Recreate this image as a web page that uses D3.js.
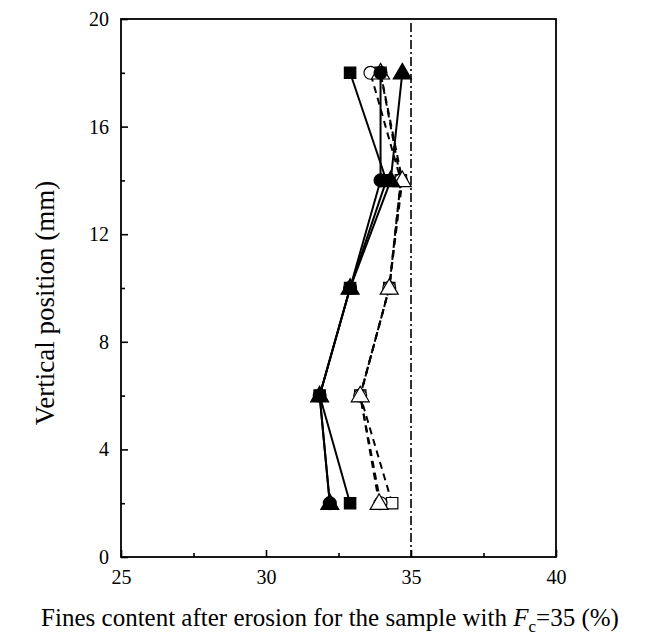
<!DOCTYPE html>
<html lang="en">

<head>
    <meta charset="utf-8">
    <title>fines content profile</title>
    <script src="https://cdn.jsdelivr.net/npm/d3@7/dist/d3.min.js"></script>
    <style>
        body { margin: 0; background: #fff; }
        text { font-family: "Liberation Serif", "Times New Roman", serif; fill: #000; }
    </style>
</head>

<body>
    <script>
        // vertical positions (mm)
        var positions = [2, 6, 10, 14, 18];
        // fines content (%) per series
        var filledSquare = [32.9, 31.85, 32.9, 34.15, 32.9];
        var filledCircle = [32.2, 31.85, 32.9, 33.95, 33.95];
        var filledTriangle = [32.2, 31.85, 32.9, 34.3, 34.7];
        var openSquare = [34.35, 33.25, 34.25, 34.65, 33.95];
        var openCircle = [33.95, 33.25, 34.25, 34.65, 33.6];
        var openTriangle = [33.9, 33.25, 34.25, 34.7, 33.95];
        var xTicks = [25, 30, 35, 40];
        var xMinor = [27.5, 32.5, 37.5];
        var yTicks = [0, 4, 8, 12, 16, 20];
        var yMinor = [2, 6, 10, 14, 18];
        var limitLine = 35;

        var series = [
            { values: openSquare, shape: d3.symbolSquare, fill: '#fff', dash: '7,5' },
            { values: openCircle, shape: d3.symbolCircle, fill: '#fff', dash: '7,5' },
            { values: openTriangle, shape: d3.symbolTriangle, fill: '#fff', dash: '7,5' },
            { values: filledSquare, shape: d3.symbolSquare, fill: '#000', dash: null },
            { values: filledCircle, shape: d3.symbolCircle, fill: '#000', dash: null },
            { values: filledTriangle, shape: d3.symbolTriangle, fill: '#000', dash: null }
        ];

        var svgWidth = 660, svgHeight = 644;
        var mLeft = 121, mRight = 556, mTop = 19, mBottom = 557;

        var svg = d3.select('body')
            .append('svg')
            .attr('width', svgWidth)
            .attr('height', svgHeight);

        var x = d3.scaleLinear().domain([25, 40]).range([mLeft, mRight]);
        var y = d3.scaleLinear().domain([0, 20]).range([mBottom, mTop]);

        // frame
        svg.append('rect')
            .attr('x', mLeft).attr('y', mTop)
            .attr('width', mRight - mLeft).attr('height', mBottom - mTop)
            .style('fill', 'none').style('stroke', '#000').style('stroke-width', 1.8);

        // inward ticks
        svg.append('g')
            .attr('transform', `translate(0, ${mBottom})`)
            .call(d3.axisBottom(x).tickValues(xTicks).tickSize(-7).tickPadding(13));
        svg.append('g')
            .attr('transform', `translate(0, ${mBottom})`)
            .call(d3.axisBottom(x).tickValues(xMinor).tickSize(-4).tickFormat(''));
        svg.append('g')
            .attr('transform', `translate(${mLeft}, 0)`)
            .call(d3.axisLeft(y).tickValues(yTicks).tickSize(-7).tickPadding(12));
        svg.append('g')
            .attr('transform', `translate(${mLeft}, 0)`)
            .call(d3.axisLeft(y).tickValues(yMinor).tickSize(-4).tickFormat(''));
        svg.selectAll('.domain').remove();
        svg.selectAll('g').attr('font-family', '"Liberation Serif", serif').attr('font-size', 20);
        svg.selectAll('.tick line').style('stroke', '#000').style('stroke-width', 1.6);

        // reference line
        svg.append('line')
            .attr('x1', x(limitLine)).attr('x2', x(limitLine))
            .attr('y1', y(20) + 4).attr('y2', y(0))
            .style('stroke', '#000').style('stroke-width', 1.6)
            .style('stroke-dasharray', '9,3,2,3');

        var line = d3.line()
            .x(d => x(d[0]))
            .y(d => y(d[1]));

        series.forEach(s => {
            var pts = s.values.map((v, i) => [v, positions[i]]);
            svg.append('path')
                .attr('d', line(pts))
                .style('fill', 'none')
                .style('stroke', '#000')
                .style('stroke-width', 2)
                .style('stroke-dasharray', s.dash);
        });

        series.forEach(s => {
            var tri = s.shape === d3.symbolTriangle;
            var sym = d3.symbol().type(s.shape).size(tri ? 140 : 130);
            svg.append('g').selectAll('path')
                .data(s.values.map((v, i) => [v, positions[i]]))
                .enter().append('path')
                .attr('transform', d => `translate(${x(d[0])}, ${y(d[1]) + (tri ? 1 : 0)})`)
                .attr('d', sym)
                .style('fill', s.fill)
                .style('stroke', '#000')
                .style('stroke-width', 1.2);
        });

        // axis titles
        svg.append('text')
            .attr('transform', `translate(54, 303) rotate(-90)`)
            .attr('text-anchor', 'middle')
            .style('font-size', '27px')
            .text('Vertical position (mm)');

        var xt = svg.append('text')
            .attr('x', 330).attr('y', 626)
            .attr('text-anchor', 'middle')
            .style('font-size', '25px');
        xt.append('tspan').text('Fines content after erosion for the sample with ');
        xt.append('tspan').style('font-style', 'italic').text('F');
        xt.append('tspan').attr('dy', 6).style('font-size', '17px').text('c');
        xt.append('tspan').attr('dy', -6).text('=35 (%)');
    </script>
</body>

</html>
